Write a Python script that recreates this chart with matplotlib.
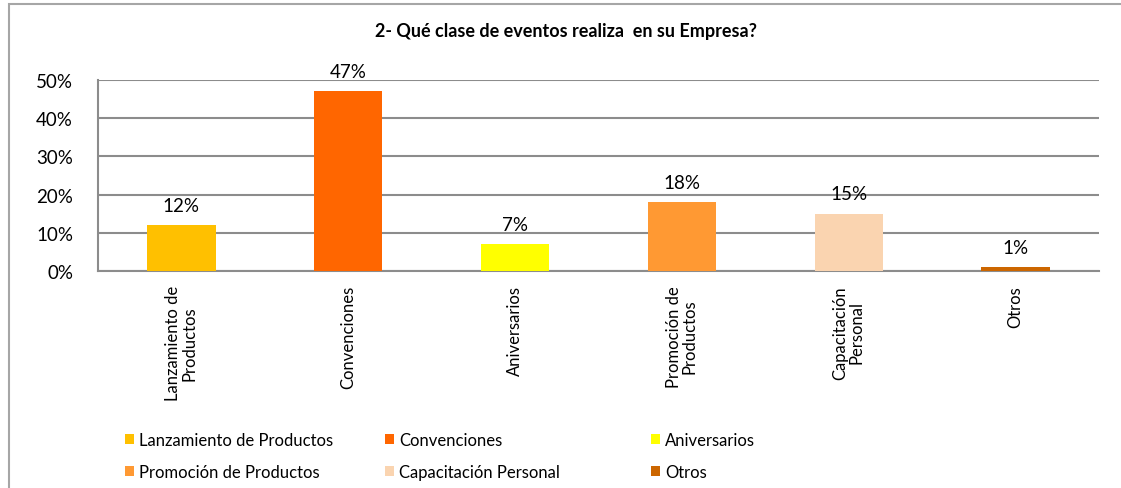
import matplotlib
matplotlib.use("Agg")
import matplotlib.pyplot as plt
from matplotlib.patches import Rectangle
from matplotlib.ticker import PercentFormatter

plt.rcParams['font.family'] = ['Lato', 'DejaVu Sans']

categories = ["Lanzamiento de Productos", "Convenciones", "Aniversarios",
              "Promoción de Productos", "Capacitación Personal", "Otros"]
tick_labels = ["Lanzamiento de\nProductos", "Convenciones", "Aniversarios",
               "Promoción de\nProductos", "Capacitación\nPersonal", "Otros"]
values = [0.12, 0.47, 0.07, 0.18, 0.15, 0.01]
colors = ["#FFC000", "#FF6600", "#FFFF00", "#FF9933", "#FAD4B0", "#CC6600"]

fig = plt.figure(figsize=(11.21, 4.89), dpi=100)
ax = fig.add_axes([98 / 1121, 217 / 489, 1001 / 1121, 191 / 489])

# outer chart border (cut off at right and bottom like the original)
fig.patches.append(Rectangle((9 / 1121, -0.2), 1.2, 1.2 - 5 / 489,
                             transform=fig.transFigure, fill=False,
                             edgecolor="#A6A6A6", linewidth=1.5))

num = range(len(categories))
bars = ax.bar(num, values, width=0.41, color=colors, zorder=3)

for i, v in enumerate(values):
    ax.text(i, v + 0.03, "%d%%" % round(v * 100), ha="center", va="bottom",
            fontsize=13.5, color="black")

ax.set_xlim(-0.5, len(categories) - 0.5)
ax.set_ylim(0, 0.5)
ax.set_yticks([0, 0.1, 0.2, 0.3, 0.4, 0.5])
ax.yaxis.set_major_formatter(PercentFormatter(1.0, decimals=0))
ax.set_xticks(list(num))
ax.set_xticklabels(tick_labels, rotation=90, va="top", ha="center",
                   multialignment="center", linespacing=1.0)
ax.tick_params(axis="both", length=0, labelsize=13.5)
ax.tick_params(axis="x", labelsize=12, pad=10)
ax.tick_params(axis="y", pad=18)

ax.grid(axis="y", color="#8C8C8C", linewidth=1.5, zorder=0)
for s in ["top", "right"]:
    ax.spines[s].set_visible(False)
for s in ["left", "bottom"]:
    ax.spines[s].set_color("#8C8C8C")
    ax.spines[s].set_linewidth(1.5)

# title
fig.text(566 / 1121, 1 - 32 / 489, "2- Qué clase de eventos realiza  en su Empresa?",
         ha="center", va="center", fontsize=13, fontweight="bold")

# legend in three columns
col_x = [125, 385, 651]
for j in range(3):
    idx = [j, j + 3]
    fig.legend([bars[k] for k in idx], [categories[k] for k in idx],
               loc="upper left", bbox_to_anchor=(col_x[j] / 1121, 1 - 433 / 489),
               frameon=False, fontsize=12, handlelength=0.55, handleheight=0.55,
               handletextpad=0.3, labelspacing=0.95, borderaxespad=0, borderpad=0)

fig.savefig("out.png", dpi=100)
